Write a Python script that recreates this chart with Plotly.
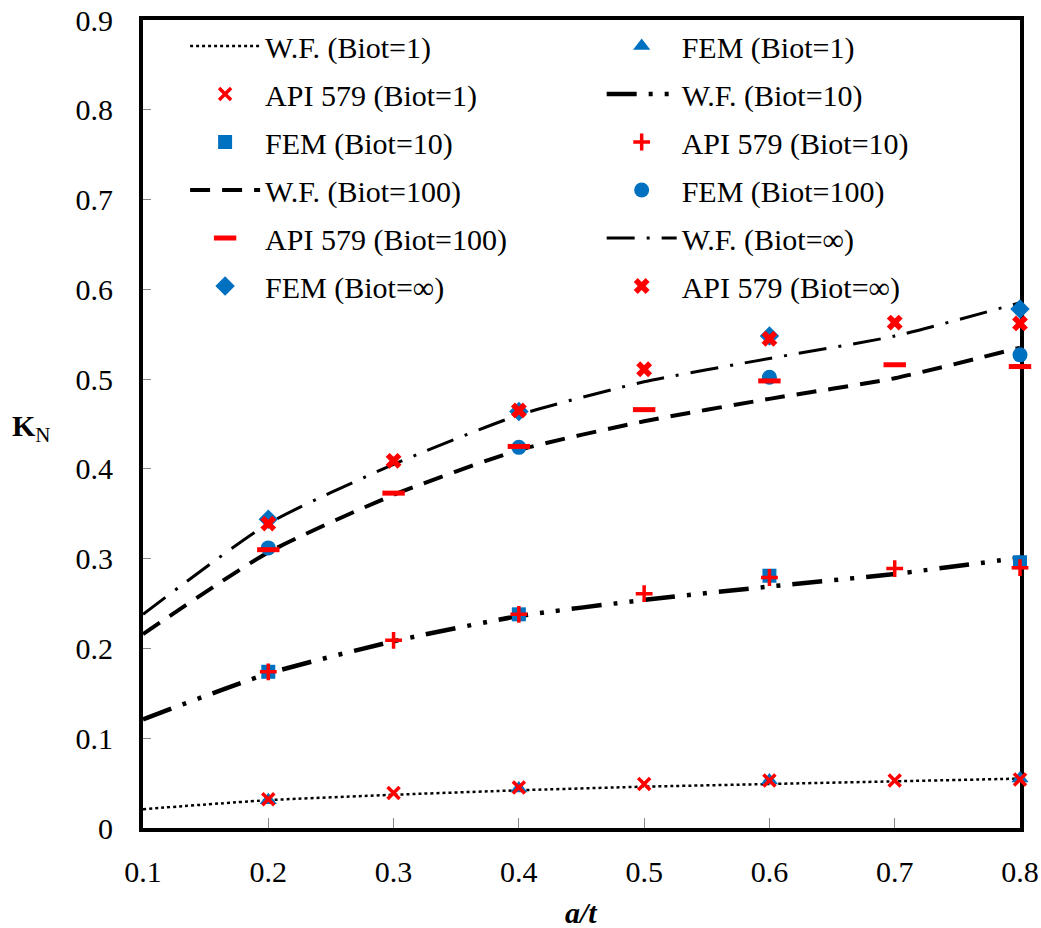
import plotly.graph_objects as go

x_wf = [0.1, 0.2, 0.3, 0.4, 0.5, 0.6, 0.7, 0.8]
x_fem = [0.2, 0.4, 0.6, 0.8]
x_api = [0.2, 0.3, 0.4, 0.5, 0.6, 0.7, 0.8]

wf_b1 = [0.021, 0.031, 0.037, 0.042, 0.046, 0.049, 0.052, 0.055]
wf_b10 = [0.121, 0.172, 0.208, 0.236, 0.254, 0.269, 0.283, 0.301]
wf_b100 = [0.216, 0.307, 0.371, 0.421, 0.453, 0.478, 0.501, 0.535]
wf_binf = [0.238, 0.339, 0.405, 0.460, 0.497, 0.523, 0.548, 0.585]

fem_b1 = [0.031, 0.044, 0.053, 0.055]
fem_b10 = [0.174, 0.238, 0.281, 0.296]
fem_b100 = [0.312, 0.424, 0.502, 0.527]
fem_binf = [0.344, 0.464, 0.548, 0.578]

api_b1 = [0.032, 0.039, 0.045, 0.049, 0.053, 0.053, 0.054]
api_b10 = [0.174, 0.209, 0.238, 0.261, 0.279, 0.289, 0.290]
api_b100 = [0.310, 0.373, 0.425, 0.466, 0.498, 0.516, 0.514]
api_binf = [0.339, 0.409, 0.465, 0.511, 0.545, 0.563, 0.562]

y_tickvals = [0, 0.1, 0.2, 0.3, 0.4, 0.5, 0.6, 0.7, 0.8, 0.9]
y_ticktext = ["0", "0.1", "0.2", "0.3", "0.4", "0.5", "0.6", "0.7", "0.8", "0.9"]
x_tickvals = [0.1, 0.2, 0.3, 0.4, 0.5, 0.6, 0.7, 0.8]
x_ticktext = ["0.1", "0.2", "0.3", "0.4", "0.5", "0.6", "0.7", "0.8"]

BLUE = "#0070C0"
RED = "#FF0000"
FONT = "'Liberation Serif', 'Times New Roman', Times, serif"

fig = go.Figure()

def line_trace(name, x, y, dash, width, legend, rank):
    fig.add_trace(go.Scatter(
        x=x, y=y, mode="lines", name=name,
        line=dict(color="black", width=width, dash=dash, shape="spline", smoothing=0.6),
        legend=legend, legendrank=rank, legendgroup=name))

def marker_trace(name, x, y, symbol, size, color, lw, legend, rank):
    fig.add_trace(go.Scatter(
        x=x, y=y, mode="markers", name=name, cliponaxis=False,
        marker=dict(symbol=symbol, size=size, color=color,
                    line=dict(color=color, width=lw)),
        legend=legend, legendrank=rank, legendgroup=name))

line_trace("W.F. (Biot=1)", x_wf, wf_b1, "dot", 2.5, "legend", 1)
line_trace("W.F. (Biot=10)", x_wf, wf_b10, "30px,12px,4px,12px,4px,12px", 4.5, "legend2", 2)
line_trace("W.F. (Biot=100)", x_wf, wf_b100, "20px,12px", 4, "legend", 4)
line_trace("W.F. (Biot=∞)", x_wf, wf_binf, "28px,12px,3px,12px", 3, "legend2", 5)

marker_trace("FEM (Biot=1)", x_fem, fem_b1, "triangle-up", 15, BLUE, 0, "legend2", 1)
marker_trace("FEM (Biot=10)", x_fem, fem_b10, "square", 14, BLUE, 0, "legend", 3)
marker_trace("FEM (Biot=100)", x_fem, fem_b100, "circle", 15, BLUE, 0, "legend2", 4)
marker_trace("FEM (Biot=∞)", x_fem, fem_binf, "diamond", 15, BLUE, 0, "legend", 6)

marker_trace("API 579 (Biot=1)", x_api, api_b1, "x-thin", 12, RED, 3.5, "legend", 2)
marker_trace("API 579 (Biot=10)", x_api, api_b10, "cross-thin", 12, RED, 3.5, "legend2", 3)
marker_trace("API 579 (Biot=100)", x_api, api_b100, "line-ew", 16, RED, 5, "legend", 5)
marker_trace("API 579 (Biot=∞)", x_api, api_binf, "x", 14, RED, 0, "legend2", 6)

legend_common = dict(
    font=dict(family=FONT, size=30, color="black"),
    bgcolor="rgba(0,0,0,0)", borderwidth=0,
    orientation="v", itemwidth=70, tracegroupgap=6,
    xanchor="left", yanchor="top", traceorder="grouped",
)

fig.update_layout(
    width=1041, height=928,
    margin=dict(l=143, r=21, t=20, b=100, autoexpand=False),
    paper_bgcolor="white", plot_bgcolor="white",
    font=dict(family=FONT, size=30, color="black"),
    showlegend=True,
    legend=dict(x=0.048, y=1.0, **legend_common),
    legend2=dict(x=0.523, y=1.0, **legend_common),
    xaxis=dict(
        range=[0.1, 0.8], tickvals=x_tickvals, ticktext=x_ticktext,
        showgrid=False, zeroline=False, automargin=False,
        showline=True, linecolor="black", linewidth=4, mirror=True,
        ticks="inside", ticklen=10, tickwidth=1, tickcolor="#888888",
        tickfont=dict(family=FONT, size=30, color="black"),
        ticklabelstandoff=14, ticklabeloverflow="allow", layer="below traces",
    ),
    yaxis=dict(
        range=[0, 0.9], tickvals=y_tickvals, ticktext=y_ticktext,
        showgrid=False, zeroline=False, automargin=False,
        showline=True, linecolor="black", linewidth=4, mirror=True,
        ticks="inside", ticklen=8, tickwidth=1, tickcolor="#888888",
        tickfont=dict(family=FONT, size=30, color="black"),
        ticklabelstandoff=20, ticklabeloverflow="allow", layer="below traces",
    ),
    annotations=[
        dict(text="<b><i>a/t</i></b>", xref="paper", yref="paper",
             x=0.5, y=-0.104, xanchor="center", yanchor="middle", showarrow=False,
             font=dict(family=FONT, size=30, color="black")),
        dict(text="<b>K</b><sub>N</sub>", xref="paper", yref="paper",
             x=-0.127, y=0.495, xanchor="center", yanchor="middle", showarrow=False,
             font=dict(family=FONT, size=30, color="black")),
    ],
)

fig.write_html(
    "out.html",
    config={"displayModeBar": False},
    post_script="document.body.style.margin='0';document.body.style.overflow='hidden';",
)
